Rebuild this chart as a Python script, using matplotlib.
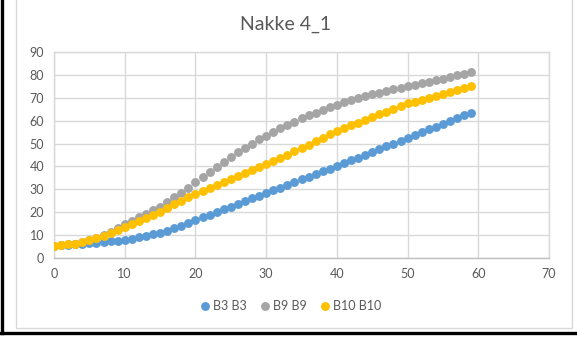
import matplotlib
matplotlib.use("Agg")
import matplotlib.pyplot as plt
from matplotlib.lines import Line2D
from matplotlib.patches import Rectangle

plt.rcParams['font.family'] = ['Lato', 'DejaVu Sans']

x_vals = list(range(60))
b3 = [5.3, 5.5, 5.7, 5.9, 6.1, 6.4, 6.7, 7.0, 7.3, 7.6,
      8.0, 8.5, 9.0, 9.6, 10.3, 11.1, 12.0, 13.0, 14.1, 15.3,
      16.5, 17.7, 18.9, 20.1, 21.3, 22.5, 23.7, 24.9, 26.1, 27.3,
      28.5, 29.6, 30.8, 31.9, 33.1, 34.3, 35.4, 36.6, 37.8, 39.0,
      40.2, 41.4, 42.7, 43.9, 45.1, 46.4, 47.6, 48.8, 50.0, 51.3,
      52.5, 53.7, 54.9, 56.2, 57.4, 58.6, 59.8, 61.0, 62.3, 63.5]
b9 = [5.3, 5.6, 5.9, 6.3, 7.0, 7.9, 8.8, 10.0, 11.3, 13.0,
      14.8, 16.3, 17.7, 19.2, 20.8, 22.4, 24.4, 26.5, 28.5, 30.7,
      33.0, 35.3, 37.5, 39.7, 42.0, 44.2, 46.2, 48.2, 50.0, 51.8,
      53.5, 55.0, 56.6, 58.1, 59.6, 61.0, 62.3, 63.5, 64.7, 65.9,
      67.0, 68.0, 69.0, 69.9, 70.7, 71.5, 72.3, 73.0, 73.7, 74.3,
      75.0, 75.7, 76.4, 77.1, 77.8, 78.4, 79.1, 79.8, 80.5, 81.2]
b10 = [5.3, 5.6, 5.9, 6.3, 7.0, 7.8, 8.7, 9.8, 11.0, 12.3,
       13.7, 15.0, 16.3, 17.6, 18.9, 20.2, 21.8, 23.4, 25.0, 26.5,
       28.0, 29.3, 30.6, 31.9, 33.2, 34.5, 35.8, 37.1, 38.4, 39.7,
       41.0, 42.4, 43.8, 45.2, 46.6, 48.0, 49.5, 51.0, 52.5, 54.0,
       55.5, 56.7, 57.9, 59.1, 60.3, 61.5, 62.7, 63.9, 65.1, 66.3,
       67.5, 68.3, 69.1, 69.9, 70.7, 71.5, 72.4, 73.2, 74.1, 75.0]
series_names = ["B3 B3", "B9 B9", "B10 B10"]
series_colors = ["#5B9BD5", "#A5A5A5", "#FFC000"]
x_ticks = [0, 10, 20, 30, 40, 50, 60, 70]
y_ticks = [0, 10, 20, 30, 40, 50, 60, 70, 80, 90]
title = "Nakke 4_1"

W, H = 577, 338
fig = plt.figure(figsize=(W / 100, H / 100), dpi=100)

def fx(px):
    return px / W

def fy(py):
    return 1 - py / H

# outer borders
fig.add_artist(Rectangle((fx(16), fy(328)), fx(572) - fx(16), fy(-5) - fy(328),
                         transform=fig.transFigure, fill=False,
                         edgecolor="#D9D9D9", linewidth=1.0))
fig.add_artist(Line2D([fx(1.5), fx(1.5)], [fy(-2), fy(333)], transform=fig.transFigure,
                      color="black", linewidth=2.4))
fig.add_artist(Line2D([fx(0), fx(576)], [fy(332.5), fy(332.5)], transform=fig.transFigure,
                      color="black", linewidth=2.4))

ax = fig.add_axes([fx(54), fy(258), fx(549) - fx(54), fy(52) - fy(258)])
for vals, name, col in zip([b3, b9, b10], series_names, series_colors):
    ax.plot(x_vals, vals, linestyle="none", marker="o", markersize=6.4,
            color=col, markeredgewidth=0, label=name, zorder=3)

ax.set_xlim(0, 70)
ax.set_ylim(0, 90)
ax.set_xticks(x_ticks)
ax.set_yticks(y_ticks)
ax.grid(True, color="#D9D9D9", linewidth=1.0)
ax.set_axisbelow(True)
for s in ["top", "right", "left"]:
    ax.spines[s].set_color("#D9D9D9")
    ax.spines[s].set_linewidth(1.0)
ax.spines["bottom"].set_color("#BFBFBF")
ax.spines["bottom"].set_linewidth(1.0)
ax.tick_params(length=0, labelsize=9, labelcolor="#595959", pad=7)

fig.text(fx(286), fy(24), title, ha="center", va="center", fontsize=14, color="#595959")

leg = fig.legend(loc="center", bbox_to_anchor=(fx(290), fy(306)), ncol=3, frameon=False,
                 fontsize=9, handletextpad=0.1, columnspacing=1.0, handlelength=1.0,
                 markerscale=1.0)
for t in leg.get_texts():
    t.set_color("#595959")

fig.savefig("out.png", dpi=100)
